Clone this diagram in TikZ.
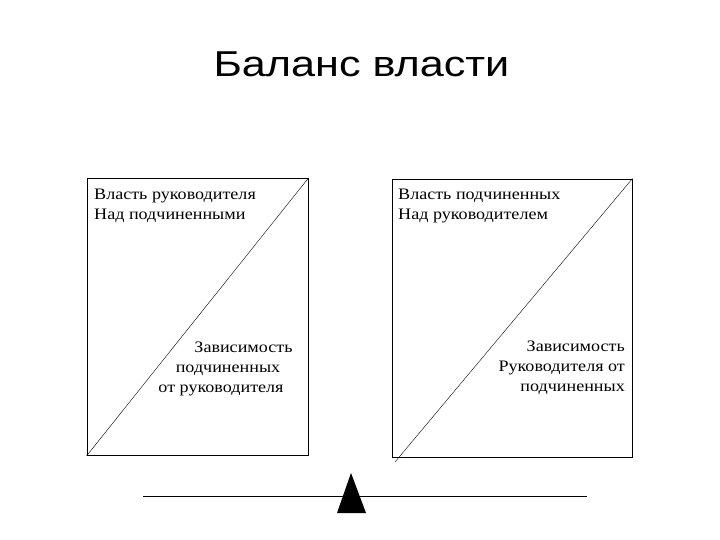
\documentclass[tikz,border=0pt]{standalone}
\usepackage{fontspec}
\setmainfont{Liberation Serif}
\newfontfamily\titlefont{Liberation Sans}
\usepackage{tikz}
\newcommand{\wideline}[1]{\scalebox{1.13}[1]{#1}}
\tikzset{panel/.style={draw, rectangle, inner sep=0pt, line width=0.9pt}, boxtext/.style={inner sep=0pt, font=\fontsize{16}{20}\selectfont}}

\begin{document}
\begin{tikzpicture}[x=1pt, y=-1pt]
      \useasboundingbox (0,0) rectangle (720,540);
      \node [font=\titlefont\fontsize{36}{40}\selectfont, anchor=base, inner sep=0pt] (title) at (361.5,76.5) {\scalebox{1.2}[1]{Баланс власти}};
      \node [panel, minimum width=221pt, minimum height=277pt] (lbox) at (197.5,317) {};
      \node [panel, minimum width=240pt, minimum height=278pt] (rbox) at (512,318) {};
      \draw (lbox.south west) -- (lbox.north east);
      \coordinate (rfoot) at (395,462);
      \draw (rfoot) -- (rbox.north east);
      \node [boxtext, align=left, anchor=base west] (lpow) at (94,219.5) {\wideline{Власть руководителя}\\\wideline{Над подчиненными}};
      \node [boxtext, align=center, anchor=base] (ldep) at (221,392) {\hspace{45pt}\wideline{Зависимость}\\\hspace{14pt}\wideline{подчиненных}\\\wideline{от руководителя}};
      \node [boxtext, align=left, anchor=base west] (rpow) at (398,219) {\wideline{Власть подчиненных}\\\wideline{Над руководителем}};
      \node [boxtext, align=right, anchor=base east] (rdep) at (625,391) {\wideline{Зависимость}\\\wideline{Руководителя от}\\\wideline{подчиненных}};
      \coordinate (beamL) at (143,496);
      \coordinate (beamR) at (587,496);
      \draw [line width=0.9pt] (beamL) -- (beamR);
      \fill (351,473) -- (366,513) -- (337,513) -- cycle;
    \end{tikzpicture}
\end{document}
